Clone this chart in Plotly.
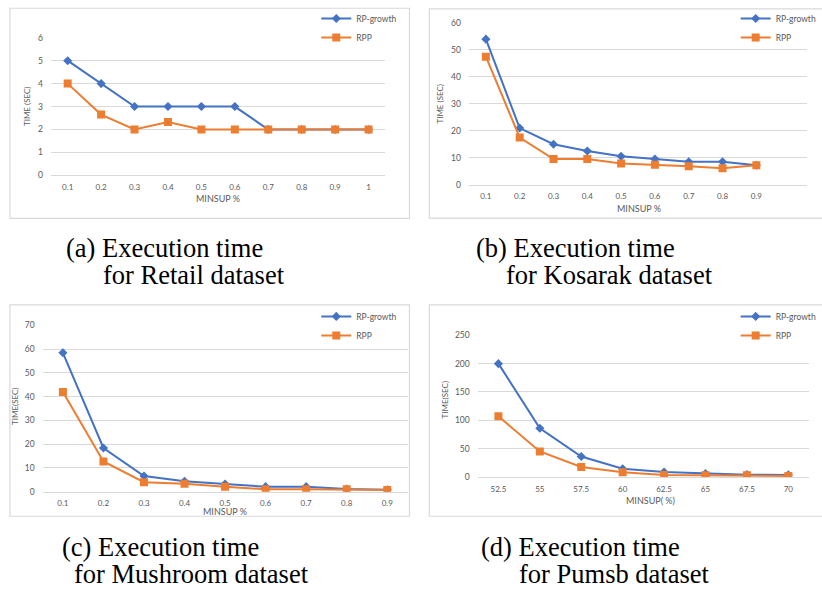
import plotly.graph_objects as go

W, H = 822, 593

# ---------------- data ----------------
retail_x = ["0.1", "0.2", "0.3", "0.4", "0.5", "0.6", "0.7", "0.8", "0.9", "1"]
retail_rpg = [5, 4, 3, 3, 3, 3, 2, 2, 2, 2]
retail_rpp = [4, 2.65, 2, 2.33, 2, 2, 2, 2, 2, 2]

kosarak_x = ["0.1", "0.2", "0.3", "0.4", "0.5", "0.6", "0.7", "0.8", "0.9"]
kosarak_rpg = [54, 21, 15, 12.5, 10.5, 9.5, 8.5, 8.5, 7.2]
kosarak_rpp = [47.5, 17.5, 9.5, 9.5, 7.8, 7.4, 6.8, 6.1, 7.2]

mushroom_x = ["0.1", "0.2", "0.3", "0.4", "0.5", "0.6", "0.7", "0.8", "0.9"]
mushroom_rpg = [58.5, 18.4, 6.6, 4.4, 3.2, 2.1, 2.1, 1.1, 0.8]
mushroom_rpp = [42, 12.7, 4.0, 3.3, 2.1, 1.0, 1.0, 1.0, 0.7]

pumsb_x = ["52.5", "55", "57.5", "60", "62.5", "65", "67.5", "70"]
pumsb_rpg = [200, 86, 36, 14.5, 8.7, 5.8, 4, 3.5]
pumsb_rpp = [107, 45, 17.4, 8.1, 3.5, 2.9, 2.9, 1.7]

series_names = ["RP-growth", "RPP"]
y_titles = ["TIME (SEC)", "TIME (SEC)", "TIME(SEC)", "TIME(SEC)"]
x_titles = ["MINSUP %", "MINSUP %", "MINSUP %", "MINSUP( %)"]
captions = [("(a) Execution time", "for Retail dataset"),
            ("(b) Execution time", "for Kosarak dataset"),
            ("(c) Execution time", "for Mushroom dataset"),
            ("(d) Execution time", "for Pumsb dataset")]
y_ranges = [(0, 6, 1), (0, 60, 10), (0, 70, 10), (0, 250, 50)]

BLUE = "#4472C4"
ORANGE = "#ED7D31"
GRID = "#D9D9D9"
TXT = "#595959"
TICKFONT = "Lato, Carlito, Liberation Sans, sans-serif"


def px(x):
    return x / W


def py(y):
    return 1 - y / H


panels = [
    dict(cats=retail_x, a=retail_rpg, b=retail_rpp, nslots=10,
         plot=(51.4, 388.6, 33.3, 173.3), box=(10, 413, 3.3, 217),
         leg=(319, -1), xt=(220, 197), yt=(28, 103),
         cap=((165.5, 247), (196, 275))),
    dict(cats=kosarak_x, a=kosarak_rpg, b=kosarak_rpp, nslots=10,
         plot=(473, 814, 18.3, 182.7), box=(433, 830, 4, 216.7),
         leg=(742, -1), xt=(644, 207), yt=(444, 100),
         cap=((580.5, 247), (615, 275))),
    dict(cats=mushroom_x, a=mushroom_rpg, b=mushroom_rpp, nslots=9,
         plot=(43, 411, 326, 495), box=(10, 413, 305, 520),
         leg=(319, 302), xt=(227, 515), yt=(15, 408),
         cap=((162, 551), (193, 579))),
    dict(cats=pumsb_x, a=pumsb_rpg, b=pumsb_rpp, nslots=8,
         plot=(481.8, 816, 336, 480), box=(433, 830, 305, 520),
         leg=(742, 302), xt=(656, 504), yt=(449, 402),
         cap=((585, 551), (620, 579))),
]

fig = go.Figure()
annotations = []
shapes = []

for i, p in enumerate(panels):
    k = "" if i == 0 else str(i + 1)
    xa, ya = "x" + k, "y" + k
    lg = "legend" + k
    idx = list(range(len(p["cats"])))
    fig.add_trace(go.Scatter(
        x=idx, y=p["a"], name=series_names[0], mode="lines+markers",
        xaxis=xa, yaxis=ya, legend=lg,
        line=dict(color=BLUE, width=2),
        marker=dict(symbol="diamond", size=7, color=BLUE)))
    fig.add_trace(go.Scatter(
        x=idx, y=p["b"], name=series_names[1], mode="lines+markers",
        xaxis=xa, yaxis=ya, legend=lg,
        line=dict(color=ORANGE, width=2),
        marker=dict(symbol="square", size=8, color=ORANGE)))

    x0, x1, y0, y1 = p["plot"]
    ymin, ymax, dt = y_ranges[i]
    fig.update_layout({
        "xaxis" + k: dict(domain=[px(x0), px(x1)], anchor=ya,
                          range=[-0.5, p["nslots"] - 0.5],
                          tickmode="array", tickvals=idx, ticktext=p["cats"],
                          showgrid=False, zeroline=False, showline=True,
                          linecolor=GRID, linewidth=1, ticks="",
                          ticklabelstandoff=4,
                          tickfont=dict(family=TICKFONT, size=8, color=TXT),
                          fixedrange=True),
        "yaxis" + k: dict(domain=[py(y1), py(y0)], anchor=xa,
                          range=[ymin, ymax], dtick=dt, tick0=0,
                          showgrid=True, gridcolor=GRID, gridwidth=1,
                          zeroline=False, showline=False, ticks="",
                          ticklabelstandoff=7,
                          tickfont=dict(family=TICKFONT, size=8.5, color=TXT),
                          fixedrange=True),
        lg: dict(x=px(p["leg"][0]), y=py(p["leg"][1]), xanchor="left",
                 yanchor="top", bgcolor="rgba(0,0,0,0)", borderwidth=0,
                 font=dict(family=TICKFONT, size=8.5, color=TXT),
                 tracegroupgap=0),
    })

    bx0, bx1, by0, by1 = p["box"]
    shapes.append(dict(type="rect", xref="paper", yref="paper",
                       x0=px(bx0), x1=px(bx1), y0=py(by1), y1=py(by0),
                       line=dict(color=GRID, width=1.2), layer="below"))

    annotations.append(dict(text=x_titles[i], x=px(p["xt"][0]), y=py(p["xt"][1]),
                            xref="paper", yref="paper", showarrow=False,
                            xanchor="center", yanchor="middle",
                            font=dict(family=TICKFONT, size=9, color=TXT)))
    annotations.append(dict(text=y_titles[i], x=px(p["yt"][0]), y=py(p["yt"][1]),
                            xref="paper", yref="paper", showarrow=False,
                            xanchor="center", yanchor="middle", textangle=-90,
                            font=dict(family=TICKFONT, size=8, color=TXT)))
    for (cx, cy), line in zip(p["cap"], captions[i]):
        annotations.append(dict(text=line, x=px(cx), y=py(cy),
                                xref="paper", yref="paper", showarrow=False,
                                xanchor="center", yanchor="middle",
                                font=dict(family="Liberation Serif, serif",
                                          size=26.5, color="black")))

fig.update_layout(
    width=W, height=H,
    margin=dict(l=0, r=0, t=0, b=0),
    paper_bgcolor="white", plot_bgcolor="white",
    showlegend=True, hovermode=False,
    annotations=annotations, shapes=shapes,
)

fig.write_html("out.html",
               config={"displayModeBar": False, "staticPlot": True},
               post_script="document.body.style.margin='0';"
                           "document.body.style.overflow='hidden';")
